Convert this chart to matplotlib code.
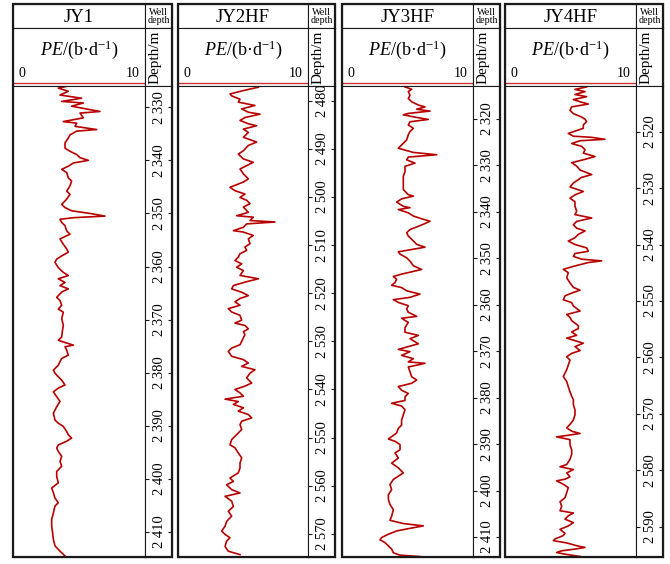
import matplotlib.pyplot as plt
from matplotlib.patches import Rectangle

plt.rcParams['font.family'] = ['Liberation Serif', 'DejaVu Serif']
plt.rcParams['mathtext.fontset'] = 'custom'
plt.rcParams['mathtext.rm'] = 'Liberation Serif'
plt.rcParams['mathtext.it'] = 'Liberation Serif:italic'

# ---- data (depth in m, PE in b/e) ----
wells = ['JY1', 'JY2HF', 'JY3HF', 'JY4HF']

jy1_depth = [2326.0, 2326.4, 2327.0, 2327.7, 2328.3, 2328.9, 2329.2, 2329.8, 2330.8, 2331.1,
             2332.0, 2332.7, 2333.0, 2333.6, 2334.2, 2334.5, 2335.2, 2335.8, 2336.7, 2337.7,
             2338.3, 2338.9, 2339.5, 2340.0, 2340.5, 2341.1, 2341.7, 2342.3, 2343.3, 2343.9,
             2344.8, 2345.8, 2346.4, 2347.3, 2348.3, 2348.9, 2349.5, 2350.0, 2350.5, 2350.8,
             2351.1, 2351.7, 2352.3, 2353.3, 2353.9, 2354.8, 2355.8, 2356.7, 2357.3, 2358.0,
             2358.6, 2359.2, 2360.2, 2361.1, 2361.7, 2362.3, 2363.0, 2363.6, 2364.2, 2364.8,
             2365.8, 2366.4, 2367.3, 2368.0, 2368.6, 2369.8, 2371.1, 2372.0, 2373.25, 2373.9,
             2374.5, 2374.8, 2375.1, 2375.75, 2376.7, 2377.3, 2377.9, 2378.6, 2379.5, 2380.1,
             2380.75, 2381.4, 2382.3, 2382.9, 2383.6, 2384.5, 2385.4, 2386.4, 2387.6, 2388.9,
             2389.5, 2390.1, 2391.1, 2391.7, 2392.3, 2392.9, 2393.6, 2394.2, 2394.8, 2395.75,
             2396.7, 2397.6, 2398.6, 2399.5, 2400.75, 2401.7, 2402.6, 2403.6, 2404.5, 2405.1,
             2406.4, 2407.6, 2408.9, 2410.1, 2411.4, 2412.6, 2413.6, 2414.5]
jy1_pe = [4.19, 3.43, 4.19, 3.56, 5.20, 3.69, 5.33, 4.44, 6.59, 5.08,
          5.33, 3.81, 4.82, 4.70, 6.34, 4.82, 4.32, 4.19, 3.94, 3.94,
          4.32, 4.82, 5.08, 5.71, 4.57, 4.19, 3.69, 4.07, 4.19, 4.44,
          4.32, 4.07, 4.32, 4.07, 3.69, 3.94, 4.44, 5.83, 6.97, 4.57,
          3.56, 3.69, 3.94, 4.07, 4.32, 3.56, 3.81, 4.07, 4.19, 3.69,
          3.31, 3.18, 3.43, 3.81, 4.19, 3.43, 3.94, 3.56, 4.19, 3.69,
          3.31, 3.56, 3.69, 3.43, 3.81, 3.69, 3.81, 3.75, 3.69, 3.43,
          4.19, 4.57, 3.94, 4.07, 4.19, 3.69, 3.56, 3.43, 3.06, 3.18,
          3.43, 3.69, 3.94, 3.43, 3.06, 3.31, 3.56, 3.31, 3.06, 3.18,
          3.43, 3.81, 4.07, 4.19, 4.44, 4.07, 3.43, 3.31, 3.43, 3.69,
          3.56, 3.69, 3.31, 3.31, 3.43, 2.93, 3.06, 3.18, 3.43, 3.18,
          3.06, 2.93, 2.93, 3.00, 3.06, 3.18, 3.56, 3.94]

jy2_depth = [2477.2, 2477.9, 2478.6, 2479.0, 2479.7, 2480.3, 2481.0, 2481.7, 2482.4, 2482.8,
             2483.5, 2484.1, 2484.8, 2485.2, 2485.9, 2486.6, 2487.6, 2488.6, 2489.3, 2490.4,
             2491.1, 2492.1, 2492.8, 2493.5, 2494.2, 2495.2, 2496.25, 2496.9, 2498.0, 2498.7,
             2499.4, 2500.1, 2500.7, 2501.4, 2502.1, 2503.2, 2503.9, 2504.2, 2504.9, 2505.2,
             2505.6, 2506.3, 2507.0, 2507.3, 2508.0, 2508.7, 2509.7, 2510.4, 2511.1, 2511.8,
             2512.5, 2513.2, 2513.9, 2514.6, 2515.3, 2516.3, 2517.0, 2517.7, 2518.4, 2519.1,
             2519.8, 2520.5, 2521.1, 2521.8, 2522.5, 2523.2, 2523.9, 2524.6, 2525.6, 2526.2,
             2526.7, 2527.4, 2528.0, 2528.6, 2530.7, 2531.4, 2532.1, 2533.1, 2533.8, 2534.5,
             2535.2, 2535.9, 2536.6, 2537.6, 2538.65, 2539.3, 2540.0, 2540.7, 2541.4, 2542.0,
             2542.5, 2543.1, 2543.8, 2544.5, 2545.2, 2545.9, 2546.6, 2547.3, 2548.3, 2549.4,
             2550.4, 2551.5, 2552.1, 2553.2, 2554.2, 2555.3, 2556.3, 2557.3, 2558.4, 2559.1,
             2559.8, 2560.8, 2561.5, 2562.2, 2563.2, 2564.3, 2565.3, 2566.3, 2567.4, 2568.4,
             2569.4, 2570.1, 2570.8, 2571.5, 2572.6, 2573.6, 2574.3]
jy2_pe = [6.18, 5.03, 4.00, 4.13, 4.77, 4.64, 5.92, 4.90, 5.41, 6.31,
          5.15, 4.77, 5.41, 6.05, 5.03, 5.41, 5.03, 6.05, 5.41, 5.03,
          4.64, 5.03, 5.79, 5.28, 4.77, 5.03, 5.41, 5.03, 4.00, 4.38,
          5.15, 4.77, 5.28, 5.54, 5.03, 5.41, 4.51, 5.79, 5.54, 7.46,
          5.28, 5.03, 4.26, 5.03, 5.79, 5.41, 5.54, 5.15, 5.28, 4.77,
          4.64, 4.38, 4.90, 4.51, 5.03, 4.77, 6.18, 5.15, 4.26, 4.13,
          4.90, 5.41, 4.77, 4.38, 4.77, 3.87, 4.13, 4.77, 4.90, 4.38,
          5.15, 5.41, 5.03, 5.15, 4.77, 4.13, 3.87, 4.13, 5.03, 5.41,
          4.90, 5.92, 5.54, 5.28, 5.67, 5.15, 4.38, 4.77, 5.03, 3.62,
          4.64, 4.26, 5.03, 4.64, 5.41, 5.67, 4.90, 4.77, 4.90, 4.51,
          4.13, 4.00, 4.38, 4.64, 4.90, 4.77, 4.77, 4.64, 4.00, 4.26,
          3.74, 4.13, 4.77, 3.62, 4.13, 4.26, 3.87, 4.13, 3.74, 3.62,
          3.36, 3.62, 4.00, 3.74, 3.62, 3.87, 4.77]

jy3_depth = [2313.1, 2313.6, 2314.1, 2314.9, 2315.6, 2316.3, 2317.0, 2317.4, 2317.9, 2318.3,
             2318.8, 2319.1, 2319.6, 2320.1, 2320.6, 2321.3, 2322.0, 2322.7, 2323.4, 2324.5,
             2325.6, 2326.3, 2326.8, 2327.2, 2327.7, 2328.2, 2328.8, 2329.5, 2330.2, 2331.3,
             2332.4, 2333.8, 2335.2, 2336.3, 2336.6, 2337.2, 2337.9, 2338.8, 2339.1, 2339.5,
             2340.2, 2340.9, 2341.6, 2342.0, 2342.5, 2343.1, 2343.8, 2344.5, 2345.2, 2345.9,
             2347.0, 2347.6, 2348.1, 2348.6, 2349.1, 2349.9, 2350.6, 2351.6, 2352.4, 2352.9,
             2353.4, 2353.9, 2354.5, 2355.2, 2355.8, 2356.3, 2357.0, 2357.7, 2358.4, 2358.9,
             2359.5, 2360.2, 2360.9, 2361.6, 2362.5, 2362.9, 2363.8, 2364.9, 2365.9, 2366.6,
             2367.3, 2368.4, 2369.1, 2369.6, 2370.1, 2370.9, 2371.6, 2372.3, 2372.6, 2373.4,
             2374.4, 2375.5, 2376.2, 2376.9, 2377.6, 2378.4, 2379.1, 2379.8, 2380.6, 2381.2,
             2381.8, 2382.6, 2383.7, 2384.8, 2385.9, 2386.6, 2387.6, 2388.4, 2388.9, 2389.4,
             2390.1, 2391.2, 2391.9, 2393.0, 2394.1, 2395.1, 2396.2, 2396.9, 2397.6, 2398.7,
             2399.8, 2400.9, 2401.9, 2403.0, 2404.1, 2405.5, 2406.4, 2407.1, 2407.6, 2408.2,
             2408.7, 2409.4, 2410.1, 2410.6, 2411.2, 2411.9, 2412.6, 2413.4, 2413.9, 2414.2]
jy3_pe = [4.81, 5.32, 5.06, 5.19, 5.06, 5.32, 5.83, 6.34, 5.70, 6.72,
          5.06, 4.68, 5.57, 6.59, 5.19, 5.06, 5.45, 5.19, 5.06, 4.94,
          4.55, 4.30, 4.94, 5.45, 7.23, 5.06, 4.94, 5.57, 4.81, 4.81,
          4.68, 4.68, 4.68, 5.06, 5.45, 4.55, 4.17, 4.68, 5.19, 4.30,
          5.06, 5.45, 6.21, 6.72, 6.34, 5.83, 5.19, 4.94, 5.06, 5.32,
          5.70, 6.34, 5.32, 4.30, 4.43, 4.94, 5.19, 5.45, 6.08, 5.32,
          4.55, 3.92, 4.17, 4.05, 3.79, 4.55, 4.94, 5.95, 5.19, 3.92,
          4.30, 5.06, 4.94, 5.06, 5.70, 4.55, 5.06, 4.81, 4.81, 5.83,
          5.19, 5.83, 4.94, 4.30, 5.19, 4.55, 5.45, 5.06, 6.34, 5.06,
          5.19, 5.32, 5.70, 5.32, 4.30, 4.55, 5.06, 4.81, 4.81, 3.79,
          4.55, 4.81, 4.68, 4.55, 4.55, 4.30, 4.17, 3.79, 3.54, 4.05,
          4.43, 4.43, 4.05, 4.30, 3.79, 4.30, 4.68, 4.30, 3.92, 3.66,
          3.79, 3.54, 3.54, 3.66, 3.92, 3.79, 3.66, 4.68, 6.21, 5.06,
          4.17, 3.54, 3.03, 2.90, 3.28, 3.54, 3.79, 3.92, 4.43, 5.95]

jy4_depth = [2512.06, 2512.5, 2512.9, 2513.4, 2513.8, 2514.3, 2514.7, 2515.1, 2515.6, 2516.2,
             2516.8, 2517.4, 2517.8, 2518.2, 2518.8, 2519.4, 2520.0, 2520.3, 2520.8, 2521.0,
             2521.35, 2521.6, 2522.1, 2522.6, 2523.2, 2523.8, 2524.4, 2524.9, 2525.5, 2526.1,
             2526.8, 2527.6, 2528.1, 2528.5, 2529.1, 2529.8, 2530.6, 2531.2, 2531.8, 2532.4,
             2533.2, 2534.1, 2534.7, 2535.3, 2535.9, 2536.5, 2537.1, 2537.6, 2538.2, 2538.8,
             2539.4, 2540.0, 2540.6, 2541.2, 2541.6, 2542.1, 2542.6, 2542.9, 2543.2, 2543.8,
             2544.4, 2545.0, 2545.9, 2546.8, 2547.6, 2548.1, 2548.5, 2549.1, 2549.8, 2550.3,
             2550.9, 2551.8, 2552.4, 2552.9, 2553.5, 2554.4, 2554.9, 2555.5, 2556.1, 2556.6,
             2557.5, 2558.1, 2558.8, 2559.3, 2559.9, 2560.5, 2561.4, 2562.2, 2563.4, 2564.3,
             2565.2, 2566.1, 2566.9, 2567.5, 2568.4, 2569.3, 2570.2, 2571.1, 2571.9, 2572.5,
             2573.1, 2573.5, 2573.9, 2574.1, 2574.6, 2575.5, 2576.4, 2577.2, 2578.1, 2579.0,
             2579.4, 2579.9, 2580.5, 2581.2, 2581.6, 2581.9, 2582.5, 2583.1, 2584.0, 2584.9,
             2585.6, 2586.4, 2587.2, 2587.6, 2588.1, 2588.7, 2589.3, 2589.9, 2590.5, 2591.2,
             2591.6, 2592.2, 2592.5, 2592.9, 2593.4, 2593.7, 2594.0, 2594.3, 2594.6, 2594.9,
             2595.3]
jy4_pe = [6.23, 5.34, 6.11, 5.34, 6.23, 5.22, 5.73, 6.36, 5.09, 4.96,
          5.22, 5.85, 6.11, 6.23, 5.98, 5.98, 5.22, 4.83, 5.22, 6.62,
          7.63, 5.73, 5.09, 5.85, 6.11, 5.98, 6.87, 6.11, 5.09, 5.47,
          5.73, 6.62, 5.85, 5.60, 5.22, 4.96, 5.98, 5.34, 4.96, 5.34,
          5.34, 5.47, 5.34, 6.62, 5.47, 5.22, 5.47, 6.11, 5.60, 5.34,
          4.83, 5.34, 6.23, 6.36, 5.34, 5.22, 5.85, 7.38, 6.36, 5.34,
          4.45, 4.83, 4.71, 4.96, 5.22, 5.73, 5.22, 4.58, 4.45, 5.09,
          5.22, 5.73, 4.71, 4.96, 5.09, 5.60, 5.60, 5.09, 5.47, 4.71,
          5.98, 5.34, 5.73, 5.09, 4.71, 4.96, 4.83, 4.71, 4.45, 4.71,
          4.83, 4.96, 5.09, 5.22, 5.22, 5.34, 5.34, 5.22, 4.96, 4.71,
          5.09, 5.73, 4.58, 3.94, 4.96, 4.96, 5.09, 5.09, 4.96, 4.71,
          4.20, 5.22, 4.71, 4.96, 4.58, 3.94, 4.45, 4.83, 4.71, 4.58,
          4.20, 4.33, 4.20, 5.22, 4.83, 4.58, 5.22, 4.83, 4.20, 4.58,
          4.45, 3.82, 3.69, 4.71, 5.47, 6.11, 5.34, 4.33, 3.94, 4.58,
          5.73]

depth_lims = [(2326.0, 2414.7), (2476.95, 2574.8), (2312.9, 2414.3), (2511.9, 2595.4)]
depth_ticks = [list(range(2330, 2411, 10)), list(range(2480, 2571, 10)),
               list(range(2320, 2411, 10)), list(range(2520, 2591, 10))]
depths = [jy1_depth, jy2_depth, jy3_depth, jy4_depth]
pes = [jy1_pe, jy2_pe, jy3_pe, jy4_pe]

# ---- layout (pixels) ----
W, H = 670, 564
cols = [(13, 145, 172), (178, 308, 335), (342, 473, 500), (505, 636, 663)]
TOP, ROW1, ROW2, BOT = 4, 28, 86, 557
curve_col = '#B80000'
edge = '#1a1a1a'

fig = plt.figure(figsize=(W / 100, H / 100), dpi=100)


def box(x0, y0, x1, y1):
    ax = fig.add_axes([x0 / W, 1 - y1 / H, (x1 - x0) / W, (y1 - y0) / H])
    ax.set_xticks([])
    ax.set_yticks([])
    for s in ax.spines.values():
        s.set_linewidth(0.8)
        s.set_color(edge)
    return ax


for i in range(4):
    L, D, R = cols[i]

    ax = box(L, TOP, D, ROW1)
    ax.text(0.5, 0.42, wells[i], ha='center', va='center', fontsize=13.5)

    ax = box(D, TOP, R, ROW1)
    ax.text(0.5, 0.48, 'Well\ndepth', ha='center', va='center', fontsize=7.2,
            linespacing=0.85)

    ax = box(L, ROW1, D, ROW2)
    ax.text(0.5, 0.62, r'$\mathit{PE}$/(b·d$^{\mathregular{-1}}$)', ha='center',
            va='center', fontsize=13)
    ax.text(0.04, 0.16, '0', ha='left', va='baseline', fontsize=10)
    ax.text(0.96, 0.16, '10', ha='right', va='baseline', fontsize=10)
    ax.axhline(0.055, color='#C83232', lw=1.0)

    ax = box(D, ROW1, R, ROW2)
    ax.text(0.36, 0.5, 'Depth/m', rotation=90, ha='center', va='center', fontsize=11)

    # curve track
    ax = box(L, ROW2, D, BOT)
    ax.plot(pes[i], depths[i], color=curve_col, lw=1.2)
    ax.set_xlim(0, 10)
    ax.set_ylim(depth_lims[i][1], depth_lims[i][0])

    # depth track
    ax = box(D, ROW2, R, BOT)
    ax.set_ylim(depth_lims[i][1], depth_lims[i][0])
    ax.set_yticks(depth_ticks[i])
    ax.tick_params(axis='y', which='both', direction='in', length=3, width=0.8,
                   left=True, right=True, labelleft=False, labelright=False, color=edge)
    tr = ax.get_yaxis_transform()
    for t in depth_ticks[i]:
        s = str(t)
        ax.text(0.52, t, s[0] + ' ' + s[1:], transform=tr, rotation=90,
                ha='center', va='center', fontsize=10.5)

    # thicker outer frame
    fig.add_artist(Rectangle((L / W, 1 - BOT / H), (R - L) / W, (BOT - TOP) / H,
                             transform=fig.transFigure, fill=False, lw=1.6,
                             edgecolor=edge, zorder=10))

fig.savefig('out.png', dpi=100, facecolor='white')
